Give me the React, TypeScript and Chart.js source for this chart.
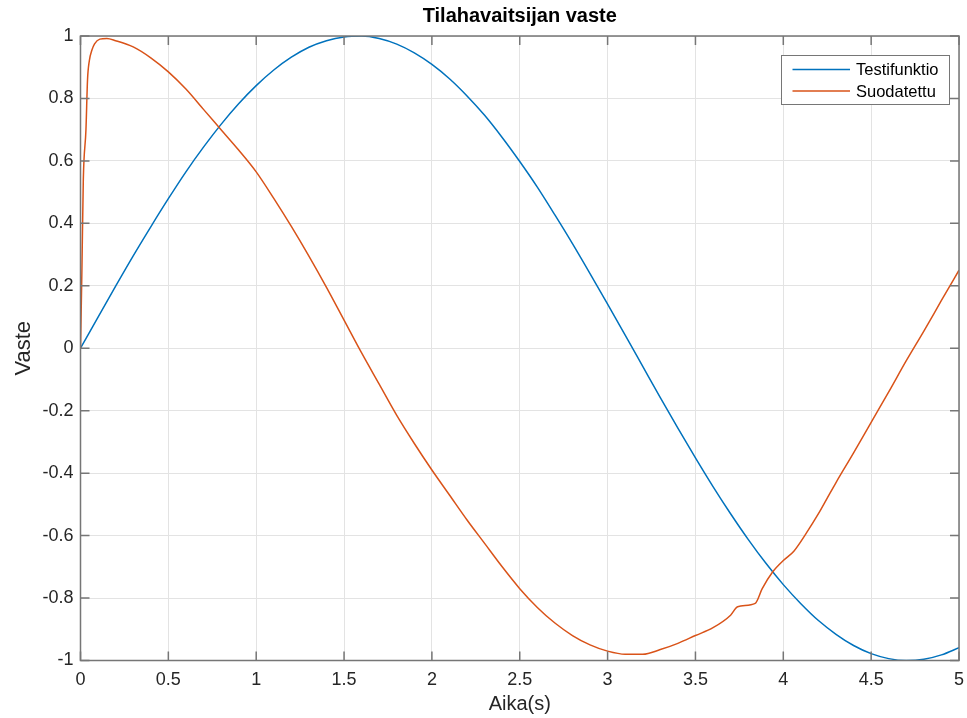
import React, { useEffect, useRef } from "react";
import { Chart, registerables } from "chart.js";

Chart.register(...registerables);

// Test function samples (time in s, response)
const timeTest = [
  0, 0.1, 0.2, 0.3, 0.4, 0.5, 0.6, 0.7, 0.8, 0.9,
  1.0, 1.1, 1.2, 1.3, 1.4, 1.5, 1.6, 1.7, 1.8, 1.9,
  2.0, 2.1, 2.2, 2.3, 2.4, 2.5, 2.6, 2.7, 2.8, 2.9,
  3.0, 3.1, 3.2, 3.3, 3.4, 3.5, 3.6, 3.7, 3.8, 3.9,
  4.0, 4.1, 4.2, 4.3, 4.4, 4.5, 4.6, 4.7, 4.8, 4.9, 5.0,
];
const testValues = [
  0, 0.1, 0.199, 0.296, 0.389, 0.479, 0.565, 0.644, 0.717, 0.783,
  0.841, 0.891, 0.932, 0.964, 0.985, 0.997, 1.0, 0.992, 0.974, 0.946,
  0.909, 0.863, 0.808, 0.746, 0.675, 0.598, 0.516, 0.427, 0.335, 0.239,
  0.141, 0.042, -0.058, -0.158, -0.256, -0.351, -0.443, -0.53, -0.612, -0.688,
  -0.757, -0.818, -0.872, -0.916, -0.952, -0.978, -0.994, -1.0, -0.996, -0.982, -0.959,
];

// Filtered (state observer) output
const timeFiltered = [
  0, 0.008, 0.016, 0.031, 0.04, 0.05, 0.065, 0.08, 0.11, 0.15,
  0.2, 0.3, 0.4, 0.5, 0.6, 0.7, 0.8, 0.9, 1.0, 1.1,
  1.2, 1.3, 1.4, 1.5, 1.6, 1.7, 1.8, 1.9, 2.0, 2.1,
  2.2, 2.3, 2.4, 2.5, 2.6, 2.7, 2.8, 2.9, 3.0, 3.1,
  3.2, 3.3, 3.4, 3.5, 3.6, 3.7, 3.74, 3.84, 3.88, 3.94,
  4.0, 4.06, 4.13, 4.2, 4.25, 4.3, 4.4, 4.5, 4.6, 4.7,
  4.8, 4.9, 5.0,
];
const filteredValues = [
  0, 0.25, 0.54, 0.7, 0.86, 0.92, 0.955, 0.975, 0.99, 0.992,
  0.985, 0.965, 0.93, 0.885, 0.83, 0.765, 0.7, 0.635, 0.565, 0.48,
  0.39, 0.295, 0.195, 0.09, -0.015, -0.115, -0.215, -0.305, -0.39, -0.47,
  -0.55, -0.625, -0.7, -0.77, -0.83, -0.88, -0.92, -0.95, -0.97, -0.98,
  -0.98, -0.965, -0.945, -0.92, -0.895, -0.855, -0.828, -0.817, -0.77, -0.716,
  -0.68, -0.65, -0.593, -0.53, -0.48, -0.43, -0.335, -0.237, -0.14, -0.04,
  0.055, 0.153, 0.25,
];

const seriesLabels = ["Testifunktio", "Suodatettu"];
const seriesColors = ["#0072BD", "#D95319"];

const xTicks = [0, 0.5, 1, 1.5, 2, 2.5, 3, 3.5, 4, 4.5, 5];
const yTicks = [-1, -0.8, -0.6, -0.4, -0.2, 0, 0.2, 0.4, 0.6, 0.8, 1];

const titleText = "Tilahavaitsijan vaste";
const xTitle = "Aika(s)";
const yTitle = "Vaste";

const FONT = "'Liberation Sans', Arial, Helvetica, sans-serif";
const AXIS_COLOR = "#767676";
const TICK_LEN = 9;

// Draws the axes box with inward ticks, the title and the boxed legend
const matlabFrame = {
  id: "matlabFrame",
  afterDatasetsDraw(chart: any) {
    const { ctx, chartArea, scales } = chart;
    const { left, right, top, bottom } = chartArea;
    ctx.save();
    ctx.strokeStyle = AXIS_COLOR;
    ctx.lineWidth = 1.5;
    ctx.strokeRect(left, top, right - left, bottom - top);
    ctx.beginPath();
    for (const v of xTicks) {
      const px = scales.x.getPixelForValue(v);
      ctx.moveTo(px, bottom);
      ctx.lineTo(px, bottom - TICK_LEN);
      ctx.moveTo(px, top);
      ctx.lineTo(px, top + TICK_LEN);
    }
    for (const v of yTicks) {
      const py = scales.y.getPixelForValue(v);
      ctx.moveTo(left, py);
      ctx.lineTo(left + TICK_LEN, py);
      ctx.moveTo(right, py);
      ctx.lineTo(right - TICK_LEN, py);
    }
    ctx.stroke();

    // title
    ctx.fillStyle = "#000";
    ctx.font = `bold 20px ${FONT}`;
    ctx.textAlign = "center";
    ctx.textBaseline = "middle";
    ctx.fillText(titleText, (left + right) / 2, 16);

    // legend
    const lx = 781.5;
    const ly = 55.5;
    const lw = 168;
    const lh = 49;
    ctx.fillStyle = "#fff";
    ctx.fillRect(lx, ly, lw, lh);
    ctx.strokeStyle = AXIS_COLOR;
    ctx.lineWidth = 1;
    ctx.strokeRect(lx, ly, lw, lh);
    ctx.font = `16.5px ${FONT}`;
    ctx.textAlign = "left";
    chart.data.datasets.forEach((ds: any, i: number) => {
      const rowY = ly + 14 + i * 21.5;
      ctx.strokeStyle = ds.borderColor;
      ctx.lineWidth = 1.5;
      ctx.beginPath();
      ctx.moveTo(lx + 11, rowY);
      ctx.lineTo(lx + 68.5, rowY);
      ctx.stroke();
      ctx.fillStyle = "#000";
      ctx.fillText(ds.label, lx + 74.5, rowY + 1);
    });
    ctx.restore();
  },
};

export default function App() {
  const canvasRef = useRef<HTMLCanvasElement | null>(null);

  useEffect(() => {
    document.body.style.margin = "0";
    const canvas = canvasRef.current;
    if (!canvas) return;

    const chart = new Chart(canvas, {
      type: "line",
      data: {
        datasets: [
          {
            label: seriesLabels[0],
            data: timeTest.map((t, i) => ({ x: t, y: testValues[i] })),
            borderColor: seriesColors[0],
            backgroundColor: seriesColors[0],
            borderWidth: 1.5,
            pointRadius: 0,
            cubicInterpolationMode: "monotone",
            order: 1,
          },
          {
            label: seriesLabels[1],
            data: timeFiltered.map((t, i) => ({ x: t, y: filteredValues[i] })),
            borderColor: seriesColors[1],
            backgroundColor: seriesColors[1],
            borderWidth: 1.5,
            pointRadius: 0,
            cubicInterpolationMode: "monotone",
            order: 0,
          },
        ],
      },
      options: {
        responsive: false,
        animation: false,
        devicePixelRatio: 1,
        layout: { padding: { top: 36, right: 8, left: 0, bottom: 0 } },
        plugins: {
          legend: { display: false },
          title: { display: false },
          tooltip: { enabled: false },
        },
        scales: {
          x: {
            type: "linear",
            min: 0,
            max: 5,
            afterBuildTicks: (scale: any) => {
              scale.ticks = xTicks.map((v) => ({ value: v }));
            },
            afterFit: (scale: any) => {
              scale.height = 57.5;
              scale.paddingLeft = 0;
              scale.paddingRight = 0;
            },
            grid: { color: "#e3e3e3", lineWidth: 1, drawTicks: false },
            border: { display: false },
            ticks: {
              padding: 9,
              maxRotation: 0,
              autoSkip: false,
              color: "#262626",
              font: { family: FONT, size: 18 },
              callback: (v: any) => String(v),
            },
            title: {
              display: true,
              text: xTitle,
              color: "#262626",
              font: { family: FONT, size: 20 },
              padding: { top: 0, bottom: 2 },
            },
          },
          y: {
            type: "linear",
            min: -1,
            max: 1,
            afterBuildTicks: (scale: any) => {
              scale.ticks = yTicks.map((v) => ({ value: v }));
            },
            afterFit: (scale: any) => {
              scale.width = 80.5;
              scale.paddingTop = 0;
              scale.paddingBottom = 0;
            },
            grid: { color: "#e3e3e3", lineWidth: 1, drawTicks: false },
            border: { display: false },
            ticks: {
              padding: 7,
              autoSkip: false,
              color: "#262626",
              font: { family: FONT, size: 18 },
              callback: (v: any) => String(v),
            },
            title: {
              display: true,
              text: yTitle,
              color: "#262626",
              font: { family: FONT, size: 22 },
              padding: { top: 11, bottom: 0 },
            },
          },
        },
      },
      plugins: [matlabFrame],
    });

    return () => chart.destroy();
  }, []);

  return <canvas ref={canvasRef} width={967} height={718} />;
}
